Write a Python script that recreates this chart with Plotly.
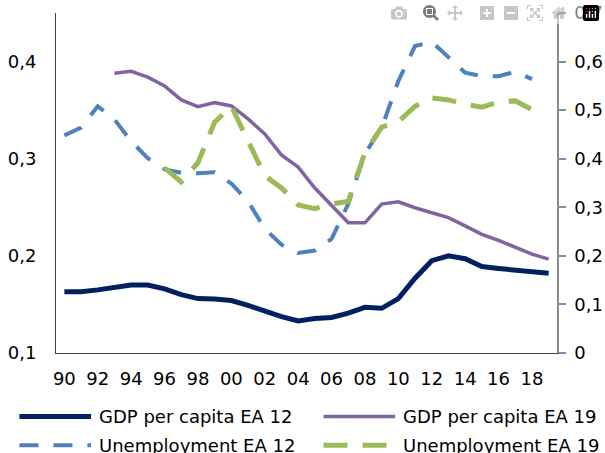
import plotly.graph_objects as go

# Years on the category axis
years = [1990, 1991, 1992, 1993, 1994, 1995, 1996, 1997, 1998, 1999,
         2000, 2001, 2002, 2003, 2004, 2005, 2006, 2007, 2008, 2009,
         2010, 2011, 2012, 2013, 2014, 2015, 2016, 2017, 2018, 2019]
tick_years = [1990, 1992, 1994, 1996, 1998, 2000, 2002, 2004,
              2006, 2008, 2010, 2012, 2014, 2016, 2018]
tick_labels = ['90', '92', '94', '96', '98', '00', '02', '04',
               '06', '08', '10', '12', '14', '16', '18']

# Left axis
gdp_ea12 = [0.163, 0.163, 0.165, 0.168, 0.170, 0.170, 0.166, 0.160, 0.156, 0.1555,
            0.154, 0.149, 0.143, 0.1375, 0.133, 0.1355, 0.1365, 0.141, 0.147, 0.146,
            0.156, 0.177, 0.195, 0.200, 0.197, 0.189, 0.187, 0.1856, 0.1836, 0.182]
gdp_ea19 = [None, None, None, 0.388, 0.390, 0.384, 0.375, 0.3605, 0.3536, 0.3577,
            0.3543, 0.341, 0.3255, 0.3038, 0.2914, 0.2698, 0.2523, 0.234, 0.234, 0.2533,
            0.2557, 0.2495, 0.2444, 0.2393, 0.2308, 0.2222, 0.216, 0.2085, 0.2017, 0.1966]

# Right axis
unemp_ea12 = [0.448, 0.464, 0.508, 0.481, 0.436, 0.401, 0.378, 0.371, 0.370, 0.372,
              0.349, 0.312, 0.256, 0.223, 0.206, 0.211, 0.235, 0.307, 0.411, 0.463,
              0.560, 0.632, 0.641, 0.608, 0.577, 0.570, 0.570, 0.579, 0.564, None]
unemp_ea19 = [None, None, None, None, None, None, 0.381, 0.352, 0.392, 0.475,
              0.508, 0.435, 0.365, 0.340, 0.305, 0.297, 0.307, 0.312, 0.413, 0.465,
              0.476, 0.508, 0.525, 0.521, 0.512, 0.506, 0.517, 0.519, 0.501, None]

series_names = ['GDP per capita EA 12', 'GDP per capita EA 19',
                'Unemployment EA 12', 'Unemployment EA 19']

FONT = 'DejaVu Sans'

styles = [dict(color='#002060', width=5),
          dict(color='#8064a2', width=3.5),
          dict(color='#4f81bd', width=4, dash='19px,15px'),
          dict(color='#9bbb59', width=5, dash='24px,15px')]

fig = go.Figure()
fig.add_trace(go.Scatter(x=years, y=gdp_ea12, mode='lines', name=series_names[0],
                         line=styles[0]))
fig.add_trace(go.Scatter(x=years, y=gdp_ea19, mode='lines', name=series_names[1],
                         line=styles[1]))
fig.add_trace(go.Scatter(x=years, y=unemp_ea12, mode='lines', name=series_names[2],
                         yaxis='y2', line=styles[2]))
fig.add_trace(go.Scatter(x=years, y=unemp_ea19, mode='lines', name=series_names[3],
                         yaxis='y2', line=styles[3]))

# Two-column key under the plot (plotly's own legend pushes the margins here)
key_rows = [-0.187, -0.187, -0.271, -0.271]
key_cols = [-0.073, 0.534, -0.073, 0.534]
key_len = 0.143
for name, style, kx, ky in zip(series_names, styles, key_cols, key_rows):
    fig.add_shape(type='line', xref='paper', yref='paper',
                  x0=kx, x1=kx + key_len, y0=ky, y1=ky, line=style)
    fig.add_annotation(xref='paper', yref='paper', x=kx + key_len + 0.011, y=ky,
                       text=name, showarrow=False, xanchor='left', yanchor='middle',
                       font=dict(family=FONT, size=18, color='black'))

fig.update_layout(
    width=605, height=453,
    margin=dict(l=56, r=48, t=13, b=100),
    paper_bgcolor='white', plot_bgcolor='white',
    separators=', ',
    font=dict(family=FONT, size=18, color='black'),
    showlegend=False,
    xaxis=dict(range=[1989.5, 2019.5], tickvals=tick_years, ticktext=tick_labels,
               showline=True, linecolor='#404040', linewidth=1, ticks='',
               showgrid=False, zeroline=False, ticklabelstandoff=9, automargin=False),
    yaxis=dict(range=[0.1, 0.45], tickvals=[0.1, 0.2, 0.3, 0.4], tickformat='.1f',
               showline=True, linecolor='#404040', linewidth=1, ticks='',
               showgrid=False, zeroline=False, ticklabelstandoff=15, automargin=False),
    yaxis2=dict(range=[0, 0.7], dtick=0.1, tick0=0, tickformat='.1~f',
                overlaying='y', side='right',
                showline=True, linecolor='#8c8c8c', linewidth=1.5,
                ticks='outside', ticklen=7, tickcolor='#8c8c8c', tickwidth=1.5,
                showgrid=False, zeroline=False, ticklabelstandoff=5, automargin=False),
)

# the page's default body margin would shift the figure by 8px
fig.write_html('out.html',
               post_script="document.body.style.margin='0';document.body.style.overflow='hidden';")
